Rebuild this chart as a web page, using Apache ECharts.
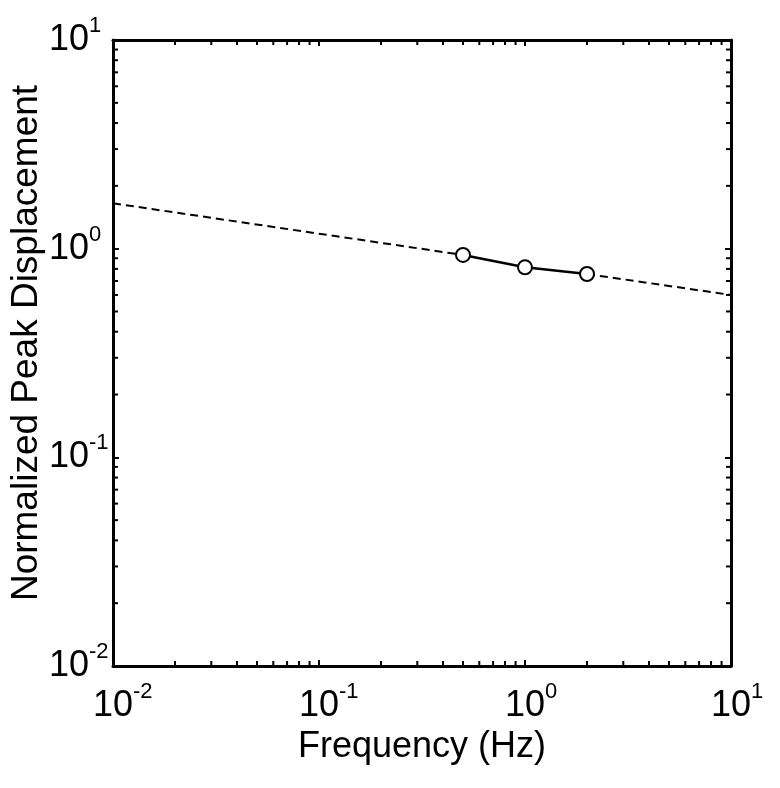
<!DOCTYPE html>
<html>
<head>
<meta charset="utf-8">
<script src="https://cdn.jsdelivr.net/npm/echarts@6/dist/echarts.min.js"></script>
<style>html,body{margin:0;padding:0;background:#fff}#c{width:780px;height:788px}</style>
</head>
<body>
<div id="c"></div>
<script>
// ---- data ----
var fitLeftX = [0.01, 0.5];
var fitLeftY = [1.65, 0.933];
var fitRightX = [2, 10];
var fitRightY = [0.756, 0.60];
var measuredX = [0.5, 1, 2];
var measuredY = [0.933, 0.814, 0.756];
var majorTicks = [0.01, 0.1, 1, 10];
var minorTicks = [0.02,0.03,0.04,0.05,0.06,0.07,0.08,0.09,
                  0.2,0.3,0.4,0.5,0.6,0.7,0.8,0.9,
                  2,3,4,5,6,7,8,9];
var xName = 'Frequency (Hz)';
var yName = 'Normalized Peak Displacement';

var FONT = '"Liberation Sans", Arial, Helvetica, sans-serif';
var chart = echarts.init(document.getElementById('c'), null, {renderer: 'canvas'});

function expOf(v) { return Math.round(Math.log10(v)); }
var richX = {
  h: {fontSize: 22, fontFamily: FONT, color: 'rgba(0,0,0,0)', verticalAlign: 'top', lineHeight: 22},
  b: {fontSize: 36, fontFamily: FONT, color: '#000', lineHeight: 50},
  s: {fontSize: 22, fontFamily: FONT, color: '#000', verticalAlign: 'top', lineHeight: 22}
};
var richY = {
  b: {fontSize: 36, fontFamily: FONT, color: '#000', lineHeight: 50},
  s: {fontSize: 22, fontFamily: FONT, color: '#000', verticalAlign: 'top', lineHeight: 22}
};

var axisLineStyle = {color: '#000', width: 3};
var tickStyle = {show: true, inside: true, length: 6, lineStyle: {color: '#000', width: 2}};

function pairs(xs, ys) { return xs.map(function (x, i) { return [x, ys[i]]; }); }

var TICKLEN = 5;
var dashedStyle = {color: '#000', width: 2, type: [8, 5]};
var option = {
  backgroundColor: '#fff',
  animation: false,
  grid: {left: 113, right: 49, top: 40, bottom: 122, containLabel: false, outerBoundsMode: 'none'},
  xAxis: [{
    type: 'log', logBase: 10, min: 0.01, max: 10, interval: 1,
    name: xName, nameLocation: 'middle', nameGap: 63, nameMoveOverlap: false,
    nameTextStyle: {fontSize: 36, fontFamily: FONT, color: '#000'},
    axisLine: {show: true, lineStyle: axisLineStyle},
    axisTick: tickStyle,
    axisLabel: {
      margin: 15, color: '#000',
      formatter: function (v) { var e = expOf(v); return '{h|' + e + '}{b|10}{s|' + e + '}'; },
      rich: richX
    },
    splitLine: {show: false}, minorTick: {show: false}
  }, {
    type: 'log', logBase: 10, min: 0.01, max: 10, interval: 1, position: 'top',
    axisLine: {show: true, lineStyle: axisLineStyle},
    axisTick: tickStyle, axisLabel: {show: false}, splitLine: {show: false}
  }],
  yAxis: [{
    type: 'log', logBase: 10, min: 0.01, max: 10, interval: 1,
    name: yName, nameLocation: 'middle', nameGap: 68, nameRotate: 90, nameMoveOverlap: false,
    nameTextStyle: {fontSize: 37, fontFamily: FONT, color: '#000', padding: [0, 0, 0, 20]},
    axisLine: {show: true, lineStyle: axisLineStyle},
    axisTick: tickStyle,
    axisLabel: {
      margin: 64, align: 'left', color: '#000',
      formatter: function (v) { return '{b|10}{s|' + expOf(v) + '}'; },
      rich: richY
    },
    splitLine: {show: false}
  }, {
    type: 'log', logBase: 10, min: 0.01, max: 10, interval: 1, position: 'right',
    axisLine: {show: true, lineStyle: axisLineStyle},
    axisTick: tickStyle, axisLabel: {show: false}, splitLine: {show: false}
  }],
  series: [
    {
      type: 'custom', xAxisIndex: 0, yAxisIndex: 0, silent: true, z: 1,
      data: minorTicks.map(function (v) { return [v, 1]; }),
      renderItem: function (params, api) {
        var v = api.value(0);
        var b = api.coord([v, 0.01]);
        var t = api.coord([v, 10]);
        var st = {stroke: '#000', lineWidth: 2};
        return {type: 'group', children: [
          {type: 'line', shape: {x1: b[0], y1: b[1], x2: b[0], y2: b[1] - TICKLEN}, style: st},
          {type: 'line', shape: {x1: t[0], y1: t[1], x2: t[0], y2: t[1] + TICKLEN}, style: st}
        ]};
      }
    },
    {
      type: 'custom', xAxisIndex: 0, yAxisIndex: 0, silent: true, z: 1,
      data: minorTicks.map(function (v) { return [1, v]; }),
      renderItem: function (params, api) {
        var v = api.value(1);
        var l = api.coord([0.01, v]);
        var r = api.coord([10, v]);
        var st = {stroke: '#000', lineWidth: 2};
        return {type: 'group', children: [
          {type: 'line', shape: {x1: l[0], y1: l[1], x2: l[0] + TICKLEN, y2: l[1]}, style: st},
          {type: 'line', shape: {x1: r[0], y1: r[1], x2: r[0] - TICKLEN, y2: r[1]}, style: st}
        ]};
      }
    },
    {
      type: 'line', xAxisIndex: 0, yAxisIndex: 0, data: pairs(fitLeftX, fitLeftY),
      showSymbol: false, symbol: 'none', silent: true, z: 2, lineStyle: dashedStyle
    },
    {
      type: 'line', xAxisIndex: 0, yAxisIndex: 0, data: pairs(fitRightX, fitRightY),
      showSymbol: false, symbol: 'none', silent: true, z: 2, lineStyle: dashedStyle
    },
    {
      type: 'line', xAxisIndex: 0, yAxisIndex: 0, data: pairs(measuredX, measuredY),
      symbol: 'circle', symbolSize: 14, showSymbol: true, silent: true, z: 3,
      lineStyle: {color: '#000', width: 2.5},
      itemStyle: {color: '#fff', borderColor: '#000', borderWidth: 2}
    }
  ]
};
chart.setOption(option);
</script>
</body>
</html>
